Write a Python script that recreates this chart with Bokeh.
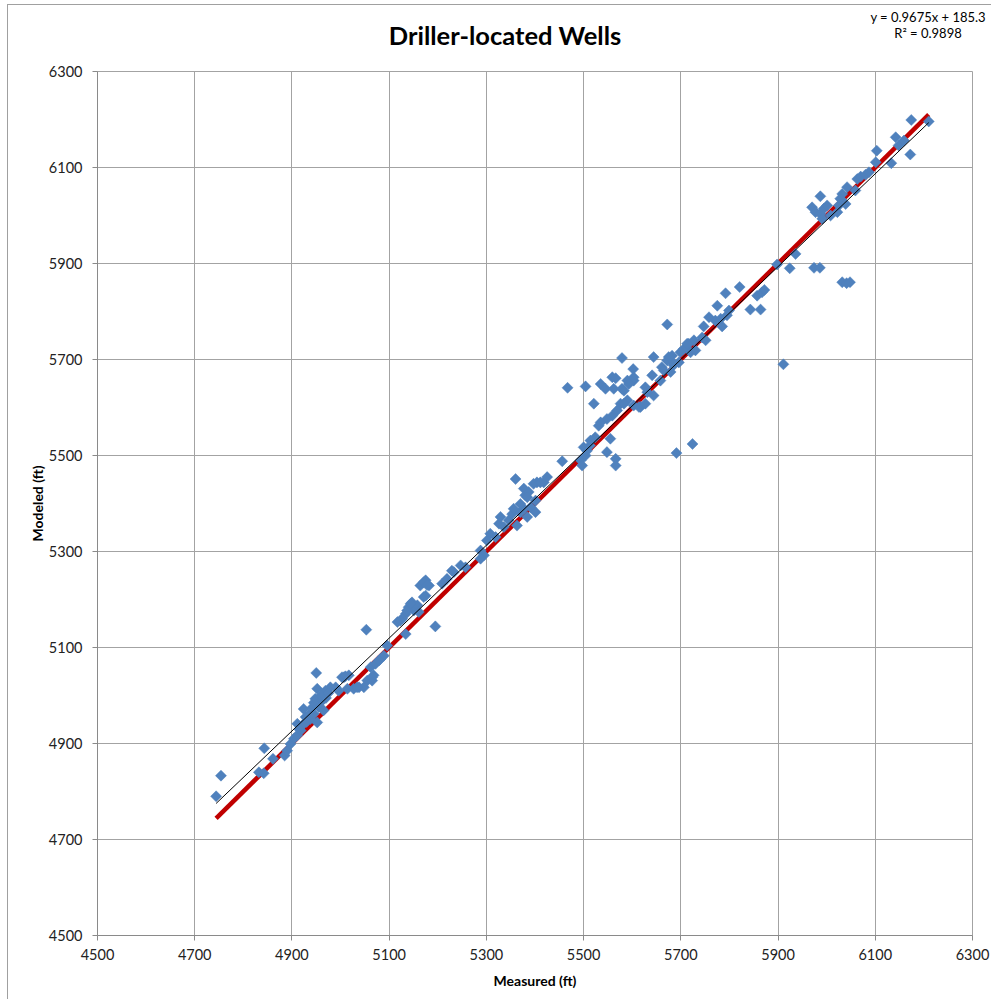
import numpy as np
from bokeh.plotting import figure
from bokeh.layouts import column
from bokeh.models import Range1d, FixedTicker, ColumnDataSource, Div
from bokeh.embed import file_html
from bokeh.resources import INLINE

# ---- data ----
measured = [
    4744, 4754, 4832, 4842, 4843, 4861, 4885, 4890, 4897, 4904, 4911, 4918, 4911, 4924, 4928,
    4924, 4938, 4945, 4952, 4955, 4948, 4952, 4950, 4962, 4965, 4969, 4979, 4990, 4996, 5007,
    5017, 5014, 5027, 5038, 5048, 5055, 5065, 5068, 5062, 5072, 5082, 5089, 5096,
    4935, 4942, 4958, 4960, 4970, 4975, 4945, 4915, 4930,
    5053, 5195, 5134, 5175, 5164, 5182, 5175, 5147, 5140, 5151, 5134, 5127, 5117, 5158, 5209,
    5219, 5233, 5247, 5079, 5065, 5034, 5003, 5010, 5123, 5137, 5144, 5161, 5171, 5171, 5178,
    5229, 5257,
    5288, 5295, 5288, 5301, 5308, 5319, 5326, 5336, 5329, 5346, 5353, 5356, 5363, 5370, 5377,
    5384, 5391, 5401, 5401, 5380, 5377, 5387, 5360, 5404, 5418, 5425, 5397, 5411, 5384, 5370,
    5456, 5494, 5497, 5504, 5507, 5513, 5467, 5504, 5521, 5535, 5545, 5559, 5566, 5562, 5579,
    5602, 5590, 5603, 5579, 5617, 5603, 5590, 5576, 5569, 5559, 5548, 5535, 5531, 5524, 5514,
    5500, 5555, 5548, 5566, 5566, 5691, 5724,
    5644, 5641, 5644, 5631, 5661, 5672, 5682, 5685, 5696, 5706, 5716, 5727, 5720, 5672, 5603,
    5593, 5583, 5583, 5614, 5627, 5627, 5658, 5665, 5679, 5675, 5686, 5699, 5713, 5730, 5744,
    5751, 5747, 5758, 5771, 5775, 5782, 5785, 5795, 5799, 5792, 5821, 5843, 5864, 5857, 5867,
    5872, 5898, 5924, 5936, 5974, 5986, 5911,
    6032, 6041, 6048, 5970, 5987, 5977, 5987, 5994, 6001, 6008, 6022, 6025, 6032, 6028, 6039,
    5991, 6042, 6059, 6063, 6070, 6080, 6087, 6101, 6103, 6133, 6142, 6148, 6159, 6172, 6174,
    6210,
]
modeled = [
    4790, 4833, 4840, 4838, 4890, 4868, 4875, 4885, 4899, 4910, 4917, 4927, 4941, 4941, 4955,
    4972, 4951, 4962, 4944, 4976, 4993, 5014, 5047, 4990, 4969, 5010, 5017, 5017, 5010, 5038,
    5042, 5014, 5014, 5017, 5017, 5031, 5031, 5042, 5059, 5066, 5076, 5083, 5104,
    4960, 4975, 4985, 5000, 4995, 5005, 4985, 4930, 4945,
    5137, 5144, 5128, 5240, 5229, 5229, 5208, 5194, 5184, 5177, 5170, 5160, 5153, 5188, 5233,
    5243, 5257, 5271, 5073, 5038, 5017, 5038, 5040, 5156, 5177, 5191, 5174, 5205, 5236, 5230,
    5260, 5267,
    5302, 5292, 5285, 5323, 5337, 5330, 5358, 5351, 5372, 5365, 5378, 5389, 5354, 5382, 5389,
    5372, 5392, 5382, 5406, 5417, 5431, 5424, 5451, 5444, 5444, 5455, 5441, 5444, 5413, 5399,
    5488, 5490, 5479, 5500, 5510, 5521, 5641, 5644, 5608, 5649, 5639, 5663, 5661, 5639, 5703,
    5680, 5656, 5656, 5639, 5601, 5604, 5615, 5608, 5594, 5583, 5576, 5569, 5562, 5538, 5531,
    5517, 5535, 5507, 5493, 5479, 5505, 5524,
    5705, 5667, 5625, 5632, 5684, 5698, 5708, 5688, 5694, 5722, 5733, 5740, 5715, 5773, 5663,
    5649, 5635, 5608, 5601, 5608, 5642, 5656, 5677, 5674, 5705, 5691, 5715, 5733, 5719, 5746,
    5740, 5769, 5788, 5781, 5812, 5785, 5769, 5792, 5802, 5838, 5851, 5804, 5804, 5833, 5840,
    5845, 5898, 5890, 5920, 5891, 5891, 5690,
    5861, 5859, 5861, 6017, 6040, 6007, 6003, 6014, 6021, 6000, 6007, 6021, 6045, 6035, 6024,
    5993, 6059, 6052, 6076, 6081, 6085, 6090, 6111, 6135, 6109, 6163, 6146, 6156, 6127, 6199,
    6196,
]
tick_values = [4500, 4700, 4900, 5100, 5300, 5500, 5700, 5900, 6100, 6300]
trend_slope = 0.9675
trend_intercept = 185.3
r_squared = 0.9898
title_text = "Driller-located Wells"
x_label = "Measured (ft)"
y_label = "Modeled (ft)"

FONT = "Lato"
GRID = "#a3a3a3"
W = 991
HEAD_H = 60

# ---- header: title and trendline equation (HTML text), plus the chart-area border ----
head_html = (
    f'<div style="position:relative;width:{W}px;height:{HEAD_H}px;font-family:{FONT};color:#000;">'
    f'<div style="position:absolute;left:7px;top:4px;width:{W - 7}px;height:1px;background:#a0a0a0;"></div>'
    f'<div style="position:absolute;left:7px;top:4px;width:1px;height:995px;background:#a0a0a0;z-index:10;"></div>'
    f'<div style="position:absolute;left:0px;width:1010px;top:20px;line-height:30px;'
    f'text-align:center;font-size:25.5px;font-weight:bold;white-space:nowrap;">{title_text}</div>'
    f'<div style="position:absolute;left:868px;width:120px;top:9px;line-height:16px;'
    f'text-align:center;font-size:13px;white-space:nowrap;">'
    f'y = {trend_slope}x + {trend_intercept}<br>R\u00b2 = {r_squared}</div>'
    f'</div>'
)
head = Div(text=head_html, width=W, height=HEAD_H, margin=0)

# ---- main scatter ----
p = figure(width=W, height=941, output_backend="svg", toolbar_location=None,
           x_range=Range1d(4500, 6300), y_range=Range1d(4500, 6300),
           min_border_left=97, min_border_right=W - 97 - 875, min_border_top=11,
           min_border_bottom=66,
           background_fill_color="white", border_fill_color="white")
p.outline_line_color = GRID

for ax in (p.xaxis[0], p.yaxis[0]):
    ax.ticker = FixedTicker(ticks=tick_values)
    ax.minor_tick_line_color = None
    ax.major_tick_in = 0
    ax.major_tick_out = 5
    ax.axis_line_color = "#8a8a8a"
    ax.major_tick_line_color = "#8a8a8a"
    ax.major_label_text_font = FONT
    ax.major_label_text_font_size = "14.5px"
    ax.major_label_text_color = "#222222"
    ax.axis_label_text_font = FONT
    ax.axis_label_text_font_size = "14px"
    ax.axis_label_text_font_style = "bold"
    ax.axis_label_text_color = "#000000"

p.xaxis.axis_label = x_label
p.yaxis.axis_label = y_label
p.xaxis.major_label_standoff = 8
p.yaxis.major_label_standoff = 10
p.xaxis.axis_label_standoff = 9
p.yaxis.axis_label_standoff = 0

p.xgrid.ticker = FixedTicker(ticks=tick_values)
p.ygrid.ticker = FixedTicker(ticks=tick_values)
p.grid.grid_line_color = GRID
p.grid.grid_line_width = 1

# 1:1 line (red)
xmin, xmax = min(measured), max(measured)
p.line([xmin, xmax], [xmin, xmax], line_color="#c00000", line_width=4.5)

# scatter points
src = ColumnDataSource(data=dict(x=measured, y=modeled))
p.scatter("x", "y", source=src, marker="square", angle=np.pi / 4, size=7.8,
          fill_color="#4f81bd", line_color="#4f81bd", line_width=0.5)

# linear trendline
tx = np.array([xmin, xmax], dtype=float)
p.line(tx, trend_slope * tx + trend_intercept, line_color="#000000", line_width=1)

open("out.html", "w").write(file_html(column(head, p, spacing=0), INLINE))
